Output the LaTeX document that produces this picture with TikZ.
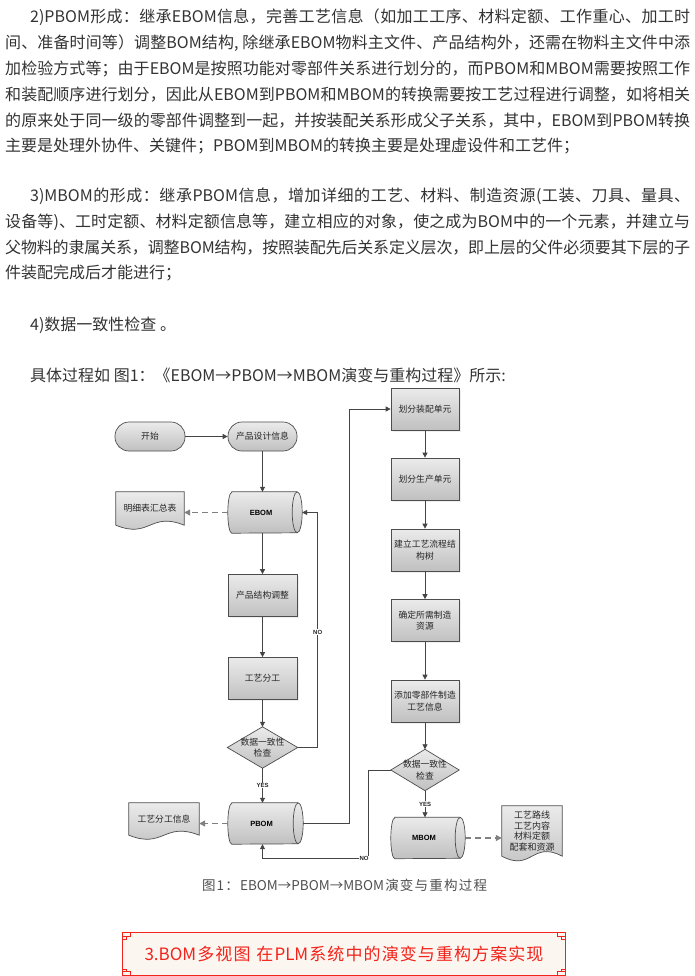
\documentclass[tikz,border=0pt]{standalone}
\usepackage{fontspec}
\setmainfont{Noto Sans CJK SC}
\newfontfamily\latf{Liberation Sans}
\usetikzlibrary{arrows.meta,backgrounds,shadows}

% glue between CJK characters so that lines can be justified
\XeTeXinterchartokenstate=1
\newXeTeXintercharclass\cjkcls
\newcount\cjkcc
\cjkcc="3000
\loop \XeTeXcharclass\cjkcc=\cjkcls \advance\cjkcc 1 \ifnum\cjkcc<"A000 \repeat
\cjkcc="FF00
\loop \XeTeXcharclass\cjkcc=\cjkcls \advance\cjkcc 1 \ifnum\cjkcc<"FFF0 \repeat
\XeTeXinterchartoks\cjkcls\cjkcls={\hskip0pt plus 1pt minus 0.6pt\relax}
\XeTeXinterchartoks 0 \cjkcls={\hskip0pt plus 1pt minus 0.6pt\relax}
\XeTeXinterchartoks\cjkcls 0 ={\hskip0pt plus 1pt minus 0.6pt\relax}

\definecolor{bodytxt}{HTML}{333333}
\definecolor{boxline}{HTML}{4D4D4D}
\definecolor{boxtop}{HTML}{EBEBEB}
\definecolor{boxbot}{HTML}{C0C0C0}
\definecolor{arrcol}{HTML}{454545}
\definecolor{dashcol}{HTML}{808080}
\definecolor{capcol}{HTML}{505050}
\definecolor{bannerred}{HTML}{F2231A}
\definecolor{bannerfill}{HTML}{FCF6F1}

\tikzset{
  bodyline/.style={anchor=west, inner sep=0pt, font=\fontsize{16}{16}\selectfont, text=bodytxt},
  boxfont/.style={font=\fontsize{8.8}{11.5}\selectfont, text=black!85},
  procbox/.style={rectangle, draw=boxline, line width=0.7pt, top color=boxtop, bottom color=boxbot,
    minimum width=69pt, minimum height=42pt, inner sep=1pt, align=center, boxfont,
    drop shadow={shadow xshift=1.5pt, shadow yshift=-1.5pt, fill=black!12}},
  termbox/.style={rectangle, rounded corners=14pt, draw=boxline, line width=0.7pt, top color=boxtop, bottom color=boxbot,
    minimum width=70pt, minimum height=29pt, inner sep=1pt, align=center, boxfont},
  cylnode/.style={rectangle, draw=none, minimum width=74pt, minimum height=41pt, inner sep=0pt,
    font=\latf\bfseries\fontsize{7.5}{9}\selectfont},
  dianode/.style={rectangle, draw=none, minimum width=70pt, minimum height=41pt, inner sep=0pt, align=center, boxfont},
  docnode/.style={rectangle, draw=none, inner sep=0pt, align=center, boxfont},
  shapefill/.style={draw=boxline, line width=0.7pt, top color=boxtop, bottom color=boxbot},
  arr/.style={draw=arrcol, line width=0.8pt, -{Triangle[length=5pt,width=5pt]}},
  darr/.style={draw=dashcol, line width=1.2pt, dash pattern=on 6pt off 4pt, -{Triangle[length=6pt,width=6pt]}},
  yn/.style={font=\latf\bfseries\fontsize{6}{6}\selectfont, fill=white, inner sep=0.6pt, text=black!85}
}

\newcommand\mycyl[1]{%
  \path[shapefill] ([xshift=4pt]#1.north west) -- ([xshift=-5pt]#1.north east)
    arc[start angle=90, end angle=-90, x radius=5pt, y radius=20.5pt]
    -- ([xshift=4pt]#1.south west)
    arc[start angle=270, end angle=90, x radius=4pt, y radius=20.5pt] -- cycle;
  \draw[boxline, line width=0.7pt] ([xshift=-5pt]#1.north east)
    arc[start angle=90, end angle=270, x radius=5pt, y radius=20.5pt];}
\newcommand\mydia[1]{%
  \path[shapefill] (#1.north) -- (#1.east) -- (#1.south) -- (#1.west) -- cycle;}
\newcommand\mydoc[2]{%
  \path[shapefill] (#1.south west) -- (#1.north west) -- (#1.north east) -- (#1.south east)
    .. controls ([yshift=#2]#1.south) and ([yshift=-#2]#1.south) .. (#1.south west) -- cycle;}
\newcommand\bcorner[3]{%
  \draw[bannerred, line width=0.8pt]
    ([shift={(0,#3*4.5)}]banner.#1) -- ([shift={(#2*8.5,#3*4.5)}]banner.#1) -- ([shift={(#2*8.5,0)}]banner.#1)
    ([shift={(0,#3*7)}]banner.#1) -- ([shift={(#2*4.5,#3*7)}]banner.#1) -- ([shift={(#2*4.5,#3*4.5)}]banner.#1);}

\begin{document}
\begin{tikzpicture}[x=1pt,y=-1pt]
\useasboundingbox (0,0) rectangle (694,976);

% ---- body text ----
\node[bodyline] (p1a) at (30,17.5) {\hbox to 660pt{2)PBOM形成：继承EBOM信息，完善工艺信息（如加工工序、材料定额、工作重心、加工时}};
\node[bodyline] (p1b) at (5,43.5) {\hbox to 685pt{间、准备时间等）调整BOM结构, 除继承EBOM物料主文件、产品结构外，还需在物料主文件中添}};
\node[bodyline] (p1c) at (5,69) {\hbox to 685pt{加检验方式等；由于EBOM是按照功能对零部件关系进行划分的，而PBOM和MBOM需要按照工作}};
\node[bodyline] (p1d) at (5,95) {\hbox to 685pt{和装配顺序进行划分，因此从EBOM到PBOM和MBOM的转换需要按工艺过程进行调整，如将相关}};
\node[bodyline] (p1e) at (5,120.5) {\hbox to 685pt{的原来处于同一级的零部件调整到一起，并按装配关系形成父子关系，其中，EBOM到PBOM转换}};
\node[bodyline] (p1f) at (5,146) {主要是处理外协件、关键件；PBOM到MBOM的转换主要是处理虚设件和工艺件；};

\node[bodyline] (p2a) at (30,196.5) {\hbox to 660pt{3)MBOM的形成：继承PBOM信息，增加详细的工艺、材料、制造资源(工装、刀具、量具、}};
\node[bodyline] (p2b) at (5,222) {\hbox to 685pt{设备等)、工时定额、材料定额信息等，建立相应的对象，使之成为BOM中的一个元素，并建立与}};
\node[bodyline] (p2c) at (5,247.5) {\hbox to 685pt{父物料的隶属关系，调整BOM结构，按照装配先后关系定义层次，即上层的父件必须要其下层的子}};
\node[bodyline] (p2d) at (5,273) {件装配完成后才能进行；};

\node[bodyline] (p3) at (30,325) {4)数据一致性检查 。};
\node[bodyline] (p4) at (30,375) {具体过程如 图1：《EBOM→PBOM→MBOM演变与重构过程》所示:};

% ---- nodes ----
\node[termbox] (start) at (150,436.5) {开始};
\node[termbox, minimum width=69pt] (design) at (262.5,436.5) {产品设计信息};
\node[cylnode] (ebom) at (265,512.5) {\hspace*{-8pt}EBOM};
\node[docnode, minimum width=68pt, minimum height=33pt] (doc1) at (150,508.5) {明细表汇总表};
\node[procbox] (adjust) at (262.5,595.5) {产品结构调整};
\node[procbox] (divide) at (262.5,678.5) {工艺分工};
\node[dianode] (chk1) at (262.5,747.5) {数据一致性\\检查};
\node[cylnode, minimum width=75pt] (pbom) at (265.5,823.5) {\hspace*{-8pt}PBOM};
\node[docnode, minimum width=70pt, minimum height=32pt] (doc2) at (164,819) {工艺分工信息};

\node[procbox, minimum width=68pt] (asm) at (425,409) {划分装配单元};
\node[procbox, minimum width=68pt] (prod) at (425,479) {划分生产单元};
\node[procbox, minimum width=68pt] (tree) at (425,550) {建立工艺流程结\\构树};
\node[procbox, minimum width=68pt] (res) at (425,620.5) {确定所需制造\\资源};
\node[procbox, minimum width=68pt] (info) at (425,701) {添加零部件制造\\工艺信息};
\node[dianode, minimum width=68pt] (chk2) at (425,770) {数据一致性\\检查};
\node[cylnode] (mbom) at (428,838) {\hspace*{-8pt}MBOM};
\node[docnode, minimum width=60pt, minimum height=50pt, font=\fontsize{9}{10.5}\selectfont] (doc3) at (532,831) {工艺路线\\工艺内容\\材料定额\\配套和资源};

% ---- shapes on background ----
\begin{scope}[on background layer]
  \fill[white] (0,0) rectangle (694,976);
  \mycyl{ebom}
  \mycyl{pbom}
  \mycyl{mbom}
  \mydia{chk1}
  \mydia{chk2}
  \mydoc{doc1}{14pt}
  \mydoc{doc2}{14pt}
  \mydoc{doc3}{16pt}
\end{scope}

% ---- connectors ----
\draw[arr] (start) -- (design);
\draw[arr] (design.south) -- (design.south |- ebom.north);
\draw[darr] (ebom.west) -- (ebom.west -| doc1.east);
\draw[arr] (ebom.south -| adjust.north) -- (adjust.north);
\draw[arr] (adjust) -- (divide);
\draw[arr] (divide.south) -- (chk1.north);
\draw[arr] (chk1.east) -- ++(20,0) coordinate (n1) |- (ebom.east);
\node[yn] (no1) at (n1 |- 0,632) {NO};
\draw[arr] (chk1.south) -- (chk1.south |- pbom.north) node[yn, midway] (yes1) {YES};
\draw[darr] (pbom.west) -- (pbom.west -| doc2.east);
\draw[arr] (pbom.east) -- ++(46,0) |- (asm.west);
\draw[arr] (asm) -- (prod);
\draw[arr] (prod) -- (tree);
\draw[arr] (tree) -- (res);
\draw[arr] (res) -- (info);
\draw[arr] (info.south) -- (chk2.north);
\draw[arr] (chk2.south) -- (chk2.south |- mbom.north) node[yn, midway] (yes2) {YES};
\draw[darr] (mbom.east) -- (mbom.east -| doc3.west);
\coordinate (nb) at (262.5,858.5);
\draw[arr] (chk2.west) -- ++(-22,0) |- (nb) -- (nb |- pbom.south);
\node[yn] (no2) at (364,858.5) {NO};

% ---- caption ----
\node[font=\fontsize{13.5}{13.5}\selectfont, text=capcol, inner sep=0pt] (cap) at (344.5,885) {\hbox to 285pt{图1：EBOM→PBOM→MBOM演变与重构过程}};

% ---- banner ----
\node[draw=bannerred, line width=1pt, fill=bannerfill, minimum width=443pt, minimum height=43pt,
  text=bannerred, font=\fontsize{17}{17}\selectfont] (banner) at (344,954) {\hbox to 399pt{3.BOM多视图 在PLM系统中的演变与重构方案实现}};
\bcorner{north west}{1}{1}
\bcorner{north east}{-1}{1}
\bcorner{south west}{1}{-1}
\bcorner{south east}{-1}{-1}
\end{tikzpicture}
\end{document}
